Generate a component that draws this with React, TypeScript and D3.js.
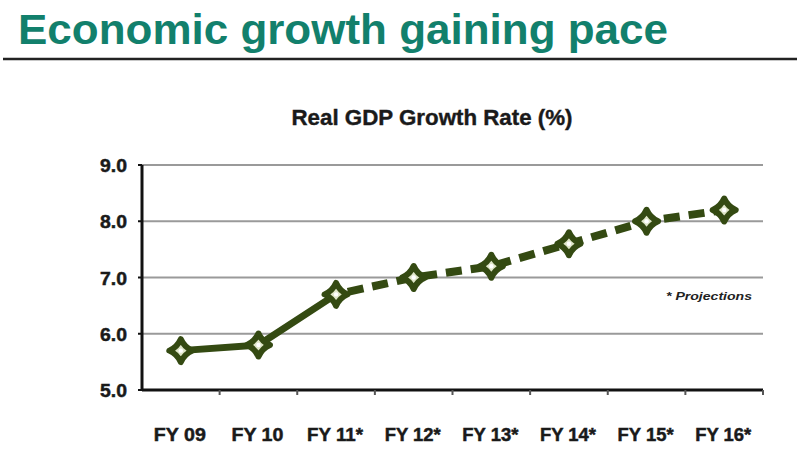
import React from "react";
import * as d3 from "d3";

const categories = ["FY 09", "FY 10", "FY 11*", "FY 12*", "FY 13*", "FY 14*", "FY 15*", "FY 16*"];
const growth = [5.7, 5.8, 6.7, 7.0, 7.2, 7.6, 8.0, 8.2];
const actualCount = 3; // FY09..FY11 solid
const yTicks = [5, 6, 7, 8, 9];

const W = 800, H = 450;
const left = 142, right = 763, top = 165, bottom = 390;

export default function App() {
  const x = d3.scaleBand<string>().domain(categories).range([left, right]);
  const y = d3.scaleLinear().domain([5, 9]).range([bottom, top]);
  const pts = categories.map((c, i) => [x(c)! + x.bandwidth() / 2, y(growth[i])] as [number, number]);
  const line = d3.line();
  const solid = line(pts.slice(0, actualCount))!;
  const dashed = line(pts.slice(actualCount - 1))!;
  const green = "#344a12";
  const diamond = (cx: number, cy: number) => {
    const r = 11.5, k = 3.5;
    return `M${cx},${cy - r} Q${cx + k},${cy - k} ${cx + r},${cy} Q${cx + k},${cy + k} ${cx},${cy + r} Q${cx - k},${cy + k} ${cx - r},${cy} Q${cx - k},${cy - k} ${cx},${cy - r}Z`;
  };
  return (
    <svg width={W} height={H} style={{ display: "block", position: "absolute", left: 0, top: 0, background: "#fff" }}>
      <text x={18} y={44} fontFamily="Liberation Sans, Arial, sans-serif" fontWeight="bold" fontSize={42}
        fill="#12806c" textLength={650} lengthAdjust="spacingAndGlyphs">Economic growth gaining pace</text>
      <line x1={3} x2={797} y1={59} y2={59} stroke="#222" strokeWidth={2.5} />
      <text x={432} y={125} textAnchor="middle" fontFamily="Liberation Sans, Arial, sans-serif" fontWeight="bold"
        fontSize={22} fill="#1a1a1a" stroke="#1a1a1a" strokeWidth={0.4} textLength={281} lengthAdjust="spacingAndGlyphs">Real GDP Growth Rate (%)</text>
      {yTicks.filter(t => t !== 5).map(t => (
        <line key={t} x1={left} x2={right} y1={y(t)} y2={y(t)} stroke="#9a9a9a" strokeWidth={2} />
      ))}
      {yTicks.map(t => (
        <g key={"yt" + t}>
          <line x1={left - 4} x2={left} y1={y(t)} y2={y(t)} stroke="#111" strokeWidth={2} />
          <text x={127} y={y(t) + 7} textAnchor="end" fontFamily="Liberation Sans, Arial, sans-serif"
            fontWeight="bold" fontSize={19} fill="#1a1a1a" stroke="#1a1a1a" strokeWidth={0.5}
            textLength={27} lengthAdjust="spacingAndGlyphs">{t.toFixed(1)}</text>
        </g>
      ))}
      <line x1={left} x2={left} y1={top} y2={bottom} stroke="#111" strokeWidth={3} />
      <line x1={left} x2={right} y1={bottom} y2={bottom} stroke="#111" strokeWidth={3} />
      {categories.map((c, i) => (
        <line key={"xt" + i} x1={x(c)! + x.bandwidth()} x2={x(c)! + x.bandwidth()} y1={bottom} y2={bottom + 5}
          stroke="#555" strokeWidth={2} />
      ))}
      {categories.map(c => (
        <text key={"xl" + c} x={x(c)! + x.bandwidth() / 2 - 1} y={441} textAnchor="middle"
          fontFamily="Liberation Sans, Arial, sans-serif" fontWeight="bold" fontSize={19} fill="#1a1a1a"
          stroke="#1a1a1a" strokeWidth={0.5}
          textLength={c.includes("*") ? 56 : 52} lengthAdjust="spacingAndGlyphs">{c}</text>
      ))}
      <text x={666} y={300} fontFamily="Liberation Sans, Arial, sans-serif" fontWeight="bold" fontStyle="italic"
        fontSize={11} fill="#222" textLength={86} lengthAdjust="spacingAndGlyphs">* Projections</text>
      <path d={solid} fill="none" stroke={green} strokeWidth={7} strokeLinejoin="round" />
      <path d={dashed} fill="none" stroke={green} strokeWidth={8} strokeDasharray="16 9" strokeDashoffset={-12} />
      {pts.map(([cx, cy], i) => (
        <g key={"m" + i}>
          <path d={diamond(cx, cy)} fill="#dfe6c8" stroke={green} strokeWidth={6} strokeLinejoin="round" />
          <circle cx={cx} cy={cy} r={2.2} fill="#fff" />
        </g>
      ))}
    </svg>
  );
}
